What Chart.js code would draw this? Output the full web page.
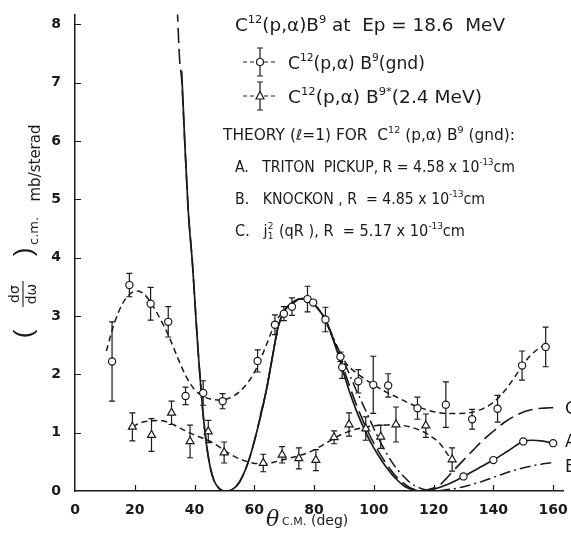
<!DOCTYPE html>
<html>
<head>
<meta charset="utf-8">
<script src="https://cdn.jsdelivr.net/npm/chart.js@4.4.1/dist/chart.umd.min.js"></script>
<style>
  html, body { margin: 0; padding: 0; background: #fff; }
  #wrap { width: 571px; height: 535px; position: relative; }
</style>
</head>
<body>
<div id="wrap"><canvas id="c" width="571" height="535"></canvas></div>
<script>
// Axis ticks
const angleTicks = [0, 20, 40, 60, 80, 100, 120, 140, 160];
const valueTicks = [0, 1, 2, 3, 4, 5, 6, 7, 8];

// C12(p,a)B9 ground state: angle (deg c.m.), cross section (mb/sr), error half-width
const gndAngle = [12.4, 18.2, 25.3, 31.2, 37.0, 42.9, 49.4, 61.1, 66.9, 69.9, 72.6, 77.8, 79.7, 83.8, 88.8, 89.4, 94.8, 99.8, 104.8, 114.6, 124.1, 132.9, 141.4, 149.6, 157.5];
const gndValue = [2.22, 3.53, 3.21, 2.90, 1.63, 1.68, 1.54, 2.23, 2.85, 3.04, 3.16, 3.29, 3.23, 2.94, 2.30, 2.12, 1.88, 1.82, 1.81, 1.42, 1.48, 1.23, 1.41, 2.15, 2.47];
const gndErr   = [0.68, 0.20, 0.28, 0.26, 0.15, 0.21, 0.13, 0.19, 0.17, 0.12, 0.15, 0.22, 0.00, 0.21, 0.08, 0.19, 0.20, 0.49, 0.20, 0.19, 0.39, 0.17, 0.23, 0.25, 0.34];

// C12(p,a)B9* (2.4 MeV)
const excAngle = [19.2, 25.6, 32.3, 38.5, 44.6, 49.9, 63.0, 69.3, 74.9, 80.6, 86.7, 91.7, 97.3, 102.3, 107.4, 117.4, 126.2];
const excValue = [1.10, 0.96, 1.34, 0.85, 1.02, 0.66, 0.48, 0.62, 0.56, 0.53, 0.92, 1.14, 1.07, 0.93, 1.14, 1.12, 0.54];
const excErr   = [0.24, 0.28, 0.20, 0.28, 0.19, 0.18, 0.15, 0.14, 0.18, 0.18, 0.11, 0.20, 0.20, 0.20, 0.30, 0.20, 0.20];

// Hand-drawn fits through the data
const gndFitX = [10.5, 13, 16, 19, 21, 23, 25, 28, 31, 34, 37, 40, 43, 46, 49, 52, 55, 58, 61, 64, 67, 70, 73, 76, 79, 82, 85, 88, 91, 94, 97, 100, 104, 108, 112, 116, 120, 124, 128, 132, 136, 140, 144, 148, 152, 156, 158];
const gndFitY = [2.40, 2.85, 3.22, 3.40, 3.43, 3.38, 3.26, 3.00, 2.70, 2.33, 1.98, 1.74, 1.62, 1.57, 1.56, 1.60, 1.70, 1.87, 2.13, 2.50, 2.88, 3.10, 3.22, 3.29, 3.26, 3.08, 2.78, 2.42, 2.17, 2.03, 1.92, 1.82, 1.70, 1.60, 1.50, 1.42, 1.36, 1.33, 1.33, 1.34, 1.40, 1.52, 1.73, 2.02, 2.30, 2.47, 2.52];
const excFitX = [19.2, 22, 25, 28, 31, 34, 37, 40, 43, 46, 49, 52, 55, 58, 61, 64, 67, 70, 73, 76, 79, 82, 85, 88, 91, 94, 97, 100, 104, 108, 112, 116, 119, 122, 124, 126.2];
const excFitY = [1.10, 1.17, 1.20, 1.21, 1.18, 1.11, 1.03, 0.96, 0.90, 0.83, 0.73, 0.63, 0.55, 0.50, 0.47, 0.47, 0.50, 0.54, 0.58, 0.62, 0.68, 0.76, 0.85, 0.94, 1.01, 1.06, 1.09, 1.12, 1.13, 1.13, 1.10, 1.03, 0.94, 0.82, 0.68, 0.52];

// Theory A: triton pickup
const thAX = [35.7, 36.8, 37.9, 39.3, 40.3, 41.2, 42.9, 44, 45.2, 46.5, 48.5, 50.5, 52.5, 55, 58, 61, 64, 66, 68, 70, 72, 74, 76, 78, 80, 82, 84, 86, 88, 90, 92, 94, 96, 98, 100, 102, 104, 106, 108, 110, 112, 114, 116, 118, 120, 125, 130, 135, 140, 145, 150, 153, 156, 160];
const thAY = [7.20, 5.90, 4.80, 3.90, 3.10, 2.40, 1.30, 0.80, 0.42, 0.18, 0.03, 0.00, 0.02, 0.15, 0.50, 1.05, 1.72, 2.28, 2.82, 3.08, 3.20, 3.27, 3.30, 3.28, 3.20, 3.08, 2.92, 2.65, 2.35, 2.00, 1.68, 1.40, 1.15, 0.93, 0.74, 0.57, 0.42, 0.29, 0.18, 0.09, 0.04, 0.01, 0.00, 0.01, 0.03, 0.12, 0.25, 0.39, 0.53, 0.69, 0.85, 0.87, 0.86, 0.82];
const thAMarks = [130, 140, 150, 160];

// Theory B: knockon
const thBX = [62, 64, 66, 68, 70, 72, 74, 76, 78, 80, 82, 84, 86, 88, 90, 92, 94, 96, 98, 100, 102, 104, 106, 108, 110, 112, 114, 116, 118, 120, 124, 128, 132, 136, 142, 148, 154, 160];
const thBY = [1.30, 1.72, 2.28, 2.82, 3.08, 3.20, 3.27, 3.30, 3.28, 3.20, 3.08, 2.92, 2.68, 2.45, 2.22, 1.98, 1.74, 1.52, 1.30, 1.07, 0.86, 0.67, 0.50, 0.36, 0.25, 0.15, 0.08, 0.04, 0.01, 0.00, 0.02, 0.05, 0.10, 0.16, 0.27, 0.37, 0.44, 0.49];

// Theory C: j1^2(qR)
const thCX = [34.2, 35.0, 35.7, 36.8, 37.9, 39.3, 40.3, 41.2, 42.9, 44, 45.2, 46.5, 48.5, 50.5, 52.5, 55, 58, 61, 64, 66, 68, 70, 72, 74, 76, 78, 80, 82, 84, 86, 88, 90, 92, 94, 96, 98, 100, 102, 104, 106, 108, 110, 112, 114, 116, 118, 120, 122, 124, 126.5, 130, 133.2, 136.5, 139.9, 143.5, 147.7, 151, 154.4, 157, 160];
const thCY = [8.30, 7.40, 7.05, 5.90, 4.80, 3.90, 3.10, 2.40, 1.30, 0.80, 0.42, 0.18, 0.03, 0.00, 0.02, 0.15, 0.50, 1.05, 1.72, 2.28, 2.82, 3.08, 3.20, 3.27, 3.30, 3.28, 3.20, 3.08, 2.92, 2.66, 2.38, 2.08, 1.78, 1.50, 1.25, 1.02, 0.82, 0.64, 0.48, 0.34, 0.22, 0.13, 0.06, 0.02, 0.00, 0.02, 0.05, 0.10, 0.20, 0.34, 0.53, 0.70, 0.87, 1.02, 1.17, 1.30, 1.37, 1.41, 1.42, 1.43];

const INK = '#1a1a1a';
const FAMILY = '"DejaVu Sans", "Liberation Sans", sans-serif';
const pts = (xs, ys) => xs.map((x, i) => ({ x: x, y: ys[i] }));

// Vertical error bars with short caps, drawn under the markers
const errorBars = {
  id: 'errorBars',
  beforeDatasetsDraw(chart) {
    const ctx = chart.ctx, xs = chart.scales.x, ys = chart.scales.y;
    ctx.save();
    ctx.strokeStyle = INK;
    ctx.lineWidth = 1.2;
    const draw = (ax, vals, errs) => {
      ax.forEach((a, i) => {
        if (!errs[i]) return;
        const px = xs.getPixelForValue(a);
        const top = ys.getPixelForValue(vals[i] + errs[i]);
        const bot = ys.getPixelForValue(vals[i] - errs[i]);
        ctx.beginPath();
        ctx.moveTo(px, top); ctx.lineTo(px, bot);
        ctx.moveTo(px - 3, top); ctx.lineTo(px + 3, top);
        ctx.moveTo(px - 3, bot); ctx.lineTo(px + 3, bot);
        ctx.stroke();
      });
    };
    draw(gndAngle, gndValue, gndErr);
    draw(excAngle, excValue, excErr);
    ctx.restore();
  }
};

// Inward tick marks
const innerTicks = {
  id: 'innerTicks',
  afterDraw(chart) {
    const ctx = chart.ctx, xs = chart.scales.x, ys = chart.scales.y, a = chart.chartArea;
    ctx.save();
    ctx.strokeStyle = INK;
    ctx.lineWidth = 1.2;
    ctx.beginPath();
    angleTicks.forEach(v => {
      if (v === 0) return;
      const px = Math.round(xs.getPixelForValue(v)) + 0.5;
      ctx.moveTo(px, a.bottom); ctx.lineTo(px, a.bottom - 6);
    });
    valueTicks.forEach(v => {
      if (v === 0) return;
      const py = Math.round(ys.getPixelForValue(v)) + 0.5;
      ctx.moveTo(a.left, py); ctx.lineTo(a.left + 6, py);
    });
    ctx.stroke();
    ctx.restore();
  }
};

// Text with superscripts / subscripts; returns advance width
function rich(ctx, x, y, parts, size, measureOnly) {
  let cx = x;
  parts.forEach(p => {
    const t = typeof p === 'string' ? p : p[0];
    const mode = typeof p === 'string' ? 'n' : p[1];
    if (mode === 'supsub') {
      const s = size * 0.62;
      ctx.font = s + 'px ' + FAMILY;
      if (!measureOnly) {
        ctx.fillText(p[2], cx, y - size * 0.45);
        ctx.fillText(t, cx, y + size * 0.22);
      }
      cx += Math.max(ctx.measureText(t).width, ctx.measureText(p[2]).width) + 1;
      return;
    }
    let s = size, dy = 0;
    if (mode === 'sup') { s = size * 0.62; dy = -size * 0.45; }
    if (mode === 'sub') { s = size * 0.62; dy = size * 0.25; }
    ctx.font = s + 'px ' + FAMILY;
    if (!measureOnly) ctx.fillText(t, cx, y + dy);
    cx += ctx.measureText(t).width;
  });
  return cx - x;
}

// A line of lettering stretched to span from x0 to x1
function lettering(ctx, x0, x1, y, parts, size) {
  const w = rich(ctx, 0, 0, parts, size, true);
  ctx.save();
  ctx.translate(x0, y);
  ctx.scale((x1 - x0) / w, 1);
  rich(ctx, 0, 0, parts, size, false);
  ctx.restore();
}

const annotations = {
  id: 'annotations',
  afterDraw(chart) {
    const ctx = chart.ctx;
    ctx.save();
    ctx.fillStyle = INK;
    ctx.strokeStyle = INK;
    ctx.textBaseline = 'alphabetic';
    ctx.textAlign = 'left';

    // Heading
    lettering(ctx, 235, 505, 31, ['C', ['12', 'sup'], '(p,\u03b1)B', ['9', 'sup'], ' at  Ep = 18.6  MeV'], 17);

    // Legend keys
    const key = (y, tri) => {
      ctx.save();
      ctx.lineWidth = 1.2;
      ctx.setLineDash([4, 3]);
      ctx.beginPath(); ctx.moveTo(243, y); ctx.lineTo(278, y); ctx.stroke();
      ctx.setLineDash([]);
      ctx.beginPath();
      ctx.moveTo(260, y - 14); ctx.lineTo(260, y + 14);
      ctx.moveTo(257, y - 14); ctx.lineTo(263, y - 14);
      ctx.moveTo(257, y + 14); ctx.lineTo(263, y + 14);
      ctx.stroke();
      ctx.fillStyle = '#fff';
      ctx.beginPath();
      if (tri) { ctx.moveTo(260, y - 4.5); ctx.lineTo(264, y + 3); ctx.lineTo(256, y + 3); ctx.closePath(); }
      else ctx.arc(260, y, 3.5, 0, Math.PI * 2);
      ctx.fill(); ctx.stroke();
      ctx.restore();
    };
    key(62, false);
    key(96, true);
    lettering(ctx, 288, 425, 69, ['C', ['12', 'sup'], '(p,\u03b1) B', ['9', 'sup'], '(gnd)'], 17);
    lettering(ctx, 288, 482, 103, ['C', ['12', 'sup'], '(p,\u03b1) B', ['9*', 'sup'], '(2.4 MeV)'], 17);

    // Theory block
    lettering(ctx, 223, 515, 140, ['THEORY (\u2113=1) FOR  C', ['12', 'sup'], ' (p,\u03b1) B', ['9', 'sup'], ' (gnd):'], 15);
    lettering(ctx, 235, 515, 172, ['A.   TRITON  PICKUP, R = 4.58 x 10', ['-13', 'sup'], 'cm'], 15);
    lettering(ctx, 235, 485, 204, ['B.   KNOCKON , R  = 4.85 x 10', ['-13', 'sup'], 'cm'], 15);
    lettering(ctx, 235, 465, 236, ['C.   j', ['1', 'supsub', '2'], ' (qR ), R  = 5.17 x 10', ['-13', 'sup'], 'cm'], 15);

    // Curve letters at the right edge
    const ys = chart.scales.y;
    ctx.font = '17px ' + FAMILY;
    ctx.textBaseline = 'middle';
    ctx.fillText('C', 565, ys.getPixelForValue(1.40));
    ctx.fillText('A', 565, ys.getPixelForValue(0.83));
    ctx.fillText('B', 565, ys.getPixelForValue(0.41));

    // x-axis title
    ctx.textBaseline = 'alphabetic';
    ctx.font = 'italic 22px "DejaVu Serif", serif';
    ctx.fillText('\u03b8', 266, 526);
    ctx.font = '11px ' + FAMILY;
    ctx.fillText('C.M.', 282, 525);
    ctx.font = '14px ' + FAMILY;
    ctx.fillText('(deg)', 311, 525);

    // y-axis title, rotated
    ctx.save();
    ctx.rotate(-Math.PI / 2);
    ctx.textAlign = 'center';
    ctx.font = '15px ' + FAMILY;
    ctx.fillText('mb/sterad', -163, 40);
    ctx.font = '26px "Liberation Sans", sans-serif';
    ctx.fillText('(', -334, 32);
    ctx.fillText(')', -252, 32);
    ctx.font = '14px ' + FAMILY;
    ctx.fillText('d\u03c3', -294, 19);
    ctx.fillText('d\u03c9', -294, 36);
    ctx.lineWidth = 1.1;
    ctx.beginPath(); ctx.moveTo(-307, 23); ctx.lineTo(-281, 23); ctx.stroke();
    ctx.font = '13px ' + FAMILY;
    ctx.textAlign = 'left';
    ctx.fillText('c.m.', -245, 38);
    ctx.restore();

    ctx.restore();
  }
};

const tickFont = { family: '"DejaVu Sans", sans-serif', size: 14, weight: 'bold' };

new Chart(document.getElementById('c'), {
  type: 'scatter',
  data: {
    datasets: [
      { data: pts(gndAngle, gndValue), pointStyle: 'circle', pointRadius: 3.6, pointBackgroundColor: '#fff', pointBorderColor: INK, pointBorderWidth: 1.2, showLine: false, order: 0 },
      { data: pts(excAngle, excValue), pointStyle: 'triangle', pointRadius: 4.6, pointBackgroundColor: '#fff', pointBorderColor: INK, pointBorderWidth: 1.2, showLine: false, order: 0 },
      { data: pts(gndFitX, gndFitY), showLine: true, borderColor: INK, borderWidth: 1.5, borderDash: [6, 4], pointRadius: 0, cubicInterpolationMode: 'monotone', order: 2 },
      { data: pts(excFitX, excFitY), showLine: true, borderColor: INK, borderWidth: 1.5, borderDash: [6, 4], pointRadius: 0, cubicInterpolationMode: 'monotone', order: 2 },
      { data: pts(thCX, thCY), showLine: true, borderColor: INK, borderWidth: 1.6, borderDash: [15, 6], pointRadius: 0, cubicInterpolationMode: 'monotone', order: 3 },
      { data: pts(thBX, thBY), showLine: true, borderColor: INK, borderWidth: 1.5, borderDash: [11, 4, 2, 4], pointRadius: 0, cubicInterpolationMode: 'monotone', order: 3 },
      { data: pts(thAX, thAY), showLine: true, borderColor: INK, borderWidth: 1.7, cubicInterpolationMode: 'monotone', order: 1,
        pointRadius: thAX.map(x => thAMarks.includes(x) ? 3.6 : 0), pointBackgroundColor: '#fff', pointBorderColor: INK, pointBorderWidth: 1.2 }
    ]
  },
  options: {
    responsive: false,
    animation: false,
    events: [],
    layout: { padding: { top: 8, right: 8, left: 0, bottom: 0 } },
    plugins: { legend: { display: false }, tooltip: { enabled: false } },
    scales: {
      x: {
        type: 'linear', min: 0, max: 163.3,
        afterBuildTicks: s => { s.ticks = angleTicks.map(v => ({ value: v })); },
        afterFit: s => { s.height = 44; },
        grid: { display: false },
        border: { display: true, color: INK, width: 1.5 },
        ticks: { color: INK, font: tickFont, padding: 3, maxRotation: 0, autoSkip: false }
      },
      y: {
        type: 'linear', min: 0, max: 8.17,
        afterBuildTicks: s => { s.ticks = valueTicks.map(v => ({ value: v })); },
        afterFit: s => { s.width = 75; },
        grid: { display: false },
        border: { display: true, color: INK, width: 1.5 },
        ticks: { color: INK, font: tickFont, padding: 6, autoSkip: false }
      }
    }
  },
  plugins: [errorBars, innerTicks, annotations]
});
</script>
</body>
</html>
